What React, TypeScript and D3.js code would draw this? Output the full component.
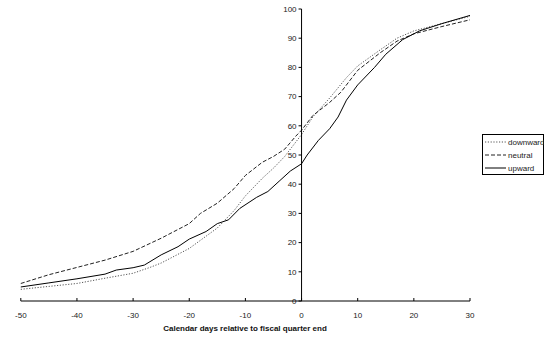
import React from "react";
import * as d3 from "d3";

const downDays = [-50, -45, -40, -35, -30, -27, -25, -20, -15, -12, -10, -7, -5, -3, -1, 0, 2, 5, 8, 10, 14, 17, 20, 25, 30];
const downVals = [4, 5, 6, 7.8, 9.5, 11.5, 13, 18, 25, 31, 36, 42, 45.5, 49.5, 54.5, 57, 63, 69.5, 76.5, 80.5, 86, 90, 92.5, 95, 97.5];

const neutDays = [-50, -45, -40, -35, -30, -25, -20, -18, -15, -12, -10, -7, -5, -3, -1, 0, 2, 5, 7, 10, 14, 17, 20, 25, 30];
const neutVals = [6, 9, 11.5, 14, 17, 21.5, 26.5, 30, 33.5, 38.5, 43, 47.5, 49.5, 52, 56.5, 58.5, 63.5, 68, 71.5, 79, 85, 89, 91.5, 94, 96.3];

const upDays = [-50, -45, -40, -35, -33, -30, -28, -25, -22, -20, -17, -15, -13, -11, -8, -6, -4, -2, 0, 1, 3, 5, 6.5, 8, 10, 13, 15, 18, 21, 25, 30];
const upVals = [4.8, 6.2, 7.6, 9.2, 10.6, 11.4, 12.3, 15.8, 18.6, 21.2, 23.8, 26.5, 27.8, 31.7, 35.5, 37.5, 41, 44.5, 47, 50, 55, 59, 63, 68.8, 74, 80, 84.5, 89.5, 92.5, 95, 97.8];

const xTicks = [-50, -40, -30, -20, -10, 0, 10, 20, 30];
const yTicks = [0, 10, 20, 30, 40, 50, 60, 70, 80, 90, 100];

const seriesNames = ["downward", "neutral", "upward"];

export default function App() {
  const x = d3.scaleLinear().domain([-50, 30]).range([20.8, 470]);
  const y = d3.scaleLinear().domain([0, 100]).range([301, 9]);
  const line = d3
    .line<[number, number]>()
    .x((d) => x(d[0]))
    .y((d) => y(d[1]));
  const zip = (a: number[], b: number[]) => a.map((v, i) => [v, b[i]] as [number, number]);
  const series = [
    { name: seriesNames[0], data: zip(downDays, downVals), dash: "1.2,1.6", color: "#555" },
    { name: seriesNames[1], data: zip(neutDays, neutVals), dash: "4,2", color: "#222" },
    { name: seriesNames[2], data: zip(upDays, upVals), dash: "none", color: "#000" },
  ];
  const font = "'Liberation Sans', Arial, sans-serif";
  return (
    <svg
      width={544}
      height={337}
      style={{ position: "absolute", left: 0, top: 0, background: "#fff" }}
      fontFamily={font}
    >
      {series.map((s) => (
        <path
          key={s.name}
          d={line(s.data) || ""}
          fill="none"
          stroke={s.color}
          strokeWidth={1}
          strokeDasharray={s.dash}
        />
      ))}
      {/* y axis */}
      <line x1={x(0)} x2={x(0)} y1={y(100)} y2={y(0)} stroke="#000" strokeWidth={1} />
      {yTicks.map((t) => (
        <g key={t}>
          <line x1={x(0) - 3} x2={x(0)} y1={y(t)} y2={y(t)} stroke="#000" />
          <text x={x(0) - 5} y={y(t)} dy="0.35em" textAnchor="end" fontSize={8} fill="#222">
            {t}
          </text>
        </g>
      ))}
      {/* x axis */}
      <line x1={x(-50)} x2={x(30)} y1={y(0)} y2={y(0)} stroke="#000" strokeWidth={1} />
      {xTicks.map((t) => (
        <g key={t}>
          <line x1={x(t)} x2={x(t)} y1={y(0) - 3} y2={y(0)} stroke="#000" />
          <text x={x(t)} y={318} textAnchor="middle" fontSize={8} fill="#222">
            {t}
          </text>
        </g>
      ))}
      <text x={245} y={331} textAnchor="middle" fontSize={8} fontWeight="bold" fill="#111">
        Calendar days relative to fiscal quarter end
      </text>
      {/* legend */}
      <rect x={482.5} y={134.5} width={61} height={40} fill="#fff" stroke="#000" strokeWidth={1} />
      {series.map((s, i) => (
        <g key={s.name}>
          <line
            x1={485}
            x2={506}
            y1={142 + i * 13}
            y2={142 + i * 13}
            stroke={s.color}
            strokeWidth={1}
            strokeDasharray={s.dash}
          />
          <text x={508} y={142 + i * 13} dy="0.35em" fontSize={8} fill="#222">
            {s.name}
          </text>
        </g>
      ))}
    </svg>
  );
}
